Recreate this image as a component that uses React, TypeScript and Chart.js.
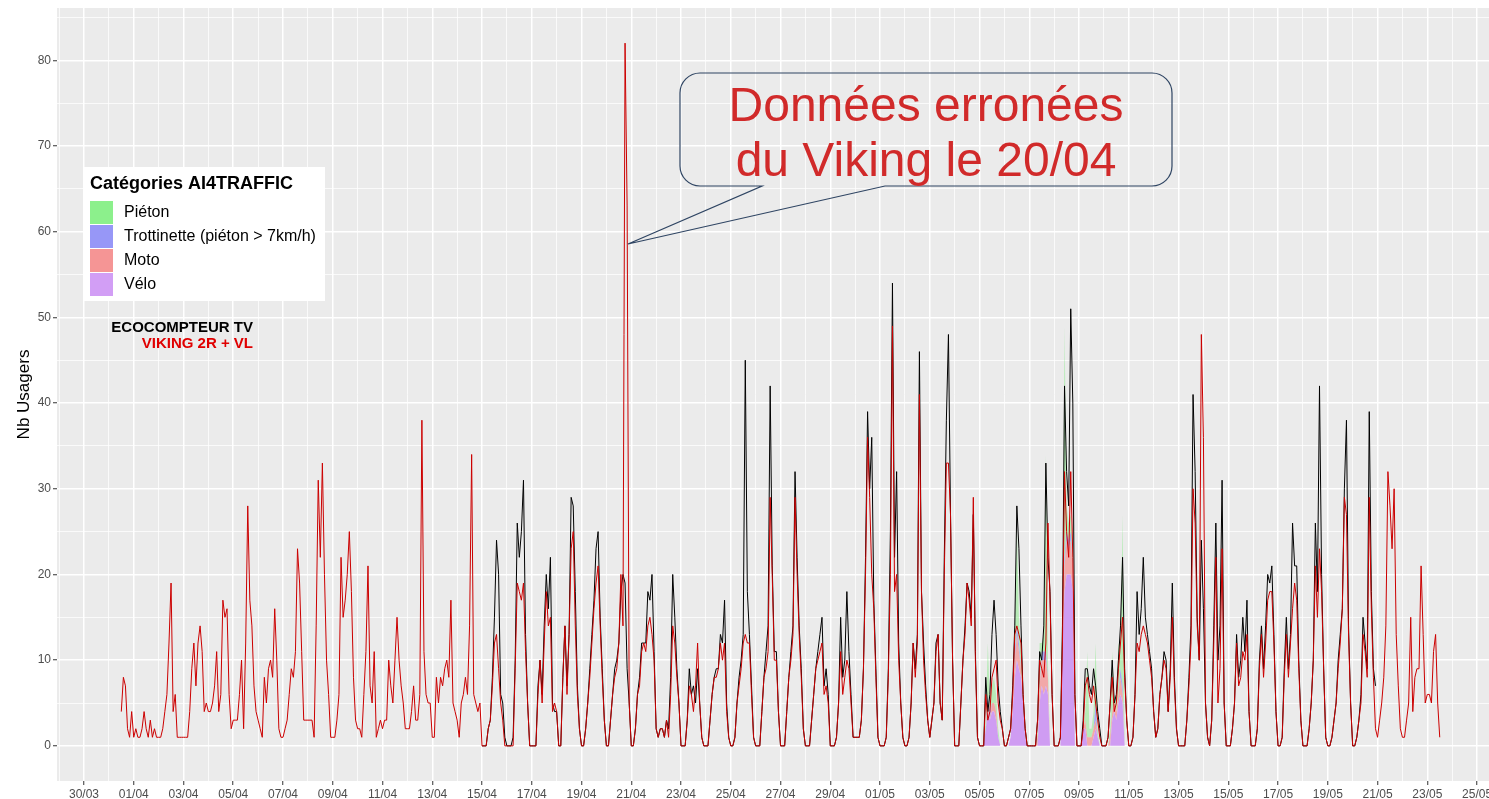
import React, { useEffect, useRef } from 'react';
import { Chart, registerables } from 'chart.js';

Chart.register(...registerables);

const FONT = "'Liberation Sans', Arial, Helvetica, sans-serif";

// X axis: days counted from 30/03 00:00; labels every 2 days
const xTickLabels = [
  '30/03', '01/04', '03/04', '05/04', '07/04', '09/04', '11/04', '13/04', '15/04', '17/04',
  '19/04', '21/04', '23/04', '25/04', '27/04', '29/04', '01/05', '03/05', '05/05', '07/05',
  '09/05', '11/05', '13/05', '15/05', '17/05', '19/05', '21/05', '23/05', '25/05',
];
const yTickLabels = [0, 10, 20, 30, 40, 50, 60, 70, 80];

// Each series is sampled every 2 hours: 12 values per day
const SAMPLES_PER_DAY = 12;

// VIKING 2R + VL (red), from 31/03 (day 1)
const vikingStartDay = 1;
const vikingValues: (number | null)[] = [
  null, null, null, null, null, null, 4, 8, 7, 2, 1, 4, // 31/03
  1, 2, 1, 1, 2, 4, 2, 1, 3, 1, 2, 1, // 01/04
  1, 1, 2, 4, 6, 12, 19, 4, 6, 1, 1, 1, // 02/04
  1, 1, 1, 4, 9, 12, 7, 12, 14, 11, 4, 5, // 03/04
  4, 4, 5, 7, 11, 4, 6, 17, 15, 16, 6, 2, // 04/04
  3, 3, 3, 6, 10, 2, 12, 28, 17, 14, 7, 4, // 05/04
  3, 2, 1, 8, 5, 9, 10, 8, 16, 10, 2, 1, // 06/04
  1, 2, 3, 6, 9, 8, 11, 23, 19, 11, 3, 3, // 07/04
  3, 3, 3, 1, 14, 31, 22, 33, 20, 10, 6, 1, // 08/04
  1, 1, 3, 6, 22, 15, 17, 20, 25, 18, 8, 3, // 09/04
  2, 2, 1, 6, 11, 21, 7, 5, 11, 1, 2, 3, // 10/04
  2, 3, 3, 10, 7, 5, 10, 15, 10, 7, 5, 2, // 11/04
  2, 2, 4, 7, 3, 3, 6, 38, 11, 6, 5, 5, // 12/04
  1, 1, 8, 5, 8, 7, 9, 10, 8, 17, 5, 4, // 13/04
  3, 1, 5, 6, 8, 6, 14, 34, 6, 5, 4, 5, // 14/04
  0, 0, 0, 2, 3, 7, 12, 13, 9, 5, 3, 0, // 15/04
  0, 0, 0, 0, 9, 19, 18, 17, 19, 11, 5, 0, // 16/04
  0, 0, 0, 6, 10, 5, 12, 18, 14, 15, 4, 5, // 17/04
  4, 0, 0, 8, 14, 6, 13, 23, 25, 14, 6, 2, // 18/04
  0, 0, 2, 5, 8, 12, 16, 19, 21, 14, 8, 3, // 19/04
  0, 0, 3, 6, 8, 9, 12, 20, 14, 82, 63, 5, // 20/04
  0, 0, 2, 6, 7, 11, 12, 11, 14, 15, 13, 10, // 21/04
  2, 1, 2, 2, 1, 3, 1, 6, 14, 12, 8, 5, // 22/04
  0, 0, 0, 3, 7, 6, 4, 7, 12, 5, 1, 0, // 23/04
  0, 0, 3, 6, 8, 8, 9, 12, 10, 12, 4, 1, // 24/04
  0, 0, 1, 5, 7, 9, 12, 13, 12, 12, 6, 1, // 25/04
  0, 0, 0, 4, 8, 9, 11, 29, 20, 10, 10, 4, // 26/04
  0, 0, 0, 4, 8, 10, 13, 29, 20, 13, 8, 2, // 27/04
  0, 0, 0, 3, 6, 9, 10, 11, 12, 6, 7, 5, // 28/04
  0, 0, 0, 1, 5, 11, 6, 8, 10, 9, 5, 1, // 29/04
  1, 1, 1, 3, 9, 20, 36, 29, 20, 16, 8, 1, // 30/04
  0, 0, 0, 1, 8, 20, 49, 18, 20, 10, 5, 1, // 01/05
  0, 0, 1, 5, 12, 8, 12, 41, 18, 10, 6, 3, // 02/05
  1, 3, 5, 11, 13, 5, 3, 20, 33, 33, 27, 10, // 03/05
  0, 0, 0, 5, 10, 13, 19, 17, 14, 29, 10, 1, // 04/05
  0, 0, 0, 6, 3, 4, 8, 9, 10, 5, 3, 2, // 05/05
  0, 0, 1, 2, 6, 13, 14, 13, 12, 6, 2, 0, // 06/05
  0, 0, 0, 0, 3, 10, 9, 8, 12, 26, 17, 6, // 07/05
  0, 0, 0, 1, 12, 32, 25, 22, 32, 22, 6, 0, // 08/05
  0, 0, 2, 7, 8, 6, 5, 7, 5, 3, 1, 0, // 09/05
  0, 0, 1, 5, 8, 4, 5, 9, 12, 15, 8, 3, // 10/05
  0, 0, 1, 6, 12, 11, 13, 14, 13, 12, 10, 8, // 11/05
  4, 1, 2, 6, 8, 10, 9, 4, 8, 15, 7, 2, // 12/05
  0, 0, 0, 0, 3, 7, 12, 30, 26, 14, 10, 48, // 13/05
  36, 5, 1, 0, 3, 12, 22, 5, 9, 23, 5, 0, // 14/05
  0, 0, 2, 5, 12, 7, 8, 11, 10, 13, 4, 0, // 15/05
  0, 0, 2, 9, 13, 8, 12, 17, 18, 18, 12, 4, // 16/05
  0, 0, 1, 8, 13, 8, 12, 16, 19, 17, 9, 3, // 17/05
  0, 0, 0, 2, 5, 10, 21, 15, 23, 18, 9, 1, // 18/05
  0, 0, 1, 3, 5, 9, 12, 16, 29, 27, 13, 5, // 19/05
  0, 0, 1, 3, 5, 13, 11, 8, 29, 16, 8, 2, // 20/05
  1, 3, 5, 8, 14, 32, 28, 23, 30, 13, 7, 2, // 21/05
  1, 1, 3, 5, 15, 4, 8, 9, 9, 21, 13, 5, // 22/05
  6, 6, 5, 11, 13, 5, 1, // 23/05
];

// ECOCOMPTEUR TV (black), from 15/04 (day 16)
const tvStartDay = 16;
const tvValues: number[] = [
  0, 0, 0, 2, 3, 8, 15, 24, 20, 6, 5, 1, // 15/04
  0, 0, 0, 1, 10, 26, 22, 25, 31, 13, 5, 0, // 16/04
  0, 0, 0, 7, 10, 6, 14, 20, 16, 22, 5, 4, // 17/04
  4, 0, 0, 8, 14, 7, 13, 29, 28, 18, 7, 2, // 18/04
  0, 0, 2, 5, 9, 13, 17, 23, 25, 15, 9, 3, // 19/04
  0, 0, 3, 6, 9, 10, 12, 18, 20, 19, 9, 5, // 20/04
  0, 0, 2, 6, 8, 12, 12, 12, 18, 17, 20, 11, // 21/04
  2, 1, 2, 2, 1, 3, 2, 8, 20, 15, 9, 5, // 22/04
  0, 0, 0, 3, 9, 6, 7, 5, 9, 5, 1, 0, // 23/04
  0, 0, 3, 6, 8, 9, 9, 13, 12, 17, 5, 1, // 24/04
  0, 0, 1, 5, 8, 10, 13, 45, 18, 13, 7, 1, // 25/04
  0, 0, 0, 4, 8, 11, 14, 42, 21, 11, 11, 4, // 26/04
  0, 0, 0, 4, 8, 11, 14, 32, 22, 14, 9, 2, // 27/04
  0, 0, 0, 3, 6, 9, 11, 13, 15, 7, 9, 6, // 28/04
  0, 0, 0, 1, 5, 15, 8, 10, 18, 11, 6, 1, // 29/04
  1, 1, 1, 3, 9, 22, 39, 30, 36, 17, 9, 1, // 30/04
  0, 0, 0, 1, 9, 25, 54, 22, 32, 12, 5, 1, // 01/05
  0, 0, 1, 5, 12, 9, 13, 46, 18, 12, 7, 3, // 02/05
  1, 3, 5, 12, 13, 5, 3, 22, 38, 48, 27, 10, // 03/05
  0, 0, 0, 5, 10, 14, 19, 18, 15, 27, 11, 1, // 04/05
  0, 0, 0, 8, 4, 6, 13, 17, 13, 7, 4, 2, // 05/05
  0, 0, 1, 2, 7, 14, 28, 23, 14, 6, 2, 0, // 06/05
  0, 0, 0, 0, 3, 11, 10, 14, 33, 22, 18, 6, // 07/05
  0, 0, 0, 1, 14, 42, 32, 28, 51, 40, 6, 0, // 08/05
  0, 0, 3, 9, 9, 7, 6, 9, 7, 4, 2, 0, // 09/05
  0, 0, 1, 5, 10, 5, 6, 10, 14, 22, 9, 3, // 10/05
  0, 0, 1, 6, 18, 13, 16, 22, 15, 13, 11, 9, // 11/05
  4, 1, 2, 6, 8, 11, 10, 4, 9, 19, 8, 2, // 12/05
  0, 0, 0, 0, 3, 8, 14, 41, 32, 15, 10, 24, // 13/05
  16, 5, 1, 0, 3, 14, 26, 10, 14, 31, 5, 0, // 14/05
  0, 0, 2, 5, 13, 8, 10, 15, 11, 17, 4, 0, // 15/05
  0, 0, 2, 10, 14, 9, 14, 20, 19, 21, 13, 4, // 16/05
  0, 0, 1, 9, 15, 9, 13, 26, 21, 21, 10, 3, // 17/05
  0, 0, 0, 2, 5, 10, 26, 18, 42, 20, 9, 1, // 18/05
  0, 0, 1, 3, 5, 10, 13, 16, 30, 38, 14, 5, // 19/05
  0, 0, 1, 3, 6, 15, 12, 9, 39, 18, 9, 7, // 20/05
];

// AI4TRAFFIC categories (stacked areas), from 05/05 (day 36)
const aiStartDay = 36;
const veloValues: number[] = [
  0, 0, 0, 2, 4, 3, 4, 4, 3, 1, 0, 0, // 05/05
  0, 0, 0, 1, 4, 8, 10, 9, 8, 5, 1, 0, // 06/05
  0, 0, 0, 0, 0, 5, 7, 6, 7, 6, 0, 0, // 07/05
  0, 0, 0, 0, 12, 18, 20, 20, 20, 18, 0, 0, // 08/05
  0, 0, 2, 2, 0, 0, 0, 1, 2, 1, 0, 0, // 09/05
  0, 0, 0, 0, 3, 4, 3, 5, 6, 5, 0, 0, // 10/05
];
const motoValues: number[] = [
  0, 0, 0, 0, 1, 0, 1, 1, 1, 0, 0, 0,
  0, 0, 0, 0, 1, 2, 3, 2, 1, 0, 0, 0,
  0, 0, 0, 0, 1, 2, 3, 4, 3, 2, 0, 0,
  0, 0, 0, 0, 1, 3, 4, 3, 4, 3, 0, 0,
  0, 0, 0, 1, 1, 1, 1, 1, 1, 0, 0, 0,
  0, 0, 0, 1, 1, 1, 1, 1, 2, 1, 0, 0,
];
const trottinetteValues: number[] = [
  0, 0, 0, 0, 1, 1, 0, 0, 0, 0, 0, 0,
  0, 0, 0, 0, 0, 1, 1, 1, 0, 0, 0, 0,
  0, 0, 0, 0, 0, 0, 1, 1, 1, 0, 0, 0,
  0, 0, 0, 0, 0, 1, 1, 1, 1, 0, 0, 0,
  0, 0, 0, 0, 0, 0, 0, 0, 2, 0, 0, 0,
  0, 0, 0, 0, 0, 0, 0, 0, 1, 1, 0, 0,
];
const pietonValues: number[] = [
  0, 0, 0, 1, 6, 1, 2, 3, 2, 1, 0, 0,
  0, 0, 0, 0, 1, 2, 12, 3, 2, 1, 0, 0,
  0, 0, 0, 0, 1, 5, 1, 2, 23, 2, 0, 0,
  0, 0, 0, 0, 1, 27, 3, 2, 2, 2, 0, 0,
  0, 0, 0, 1, 10, 1, 1, 2, 7, 1, 0, 0,
  0, 0, 0, 1, 7, 1, 1, 6, 2, 20, 0, 0,
];

const legendTitle = 'Catégories AI4TRAFFIC';
const legendLabels = ['Piéton', 'Trottinette (piéton > 7km/h)', 'Moto', 'Vélo'];
const legendColors = ['#8CF08C', '#9797F7', '#F59595', '#D29EF5'];
const areaFillColors = ['rgba(120,235,120,0.45)', 'rgba(140,140,245,0.7)', 'rgba(245,140,140,0.7)', '#CF9CF2'];
const seriesLabels = ['ECOCOMPTEUR TV', 'VIKING 2R + VL'];
const calloutLines = ['Données erronées', 'du Viking le 20/04'];

const toPoints = (values: (number | null)[], startDay: number) =>
  values.map((v, i) => ({ x: startDay + i / SAMPLES_PER_DAY, y: v }));

const panelBackground = {
  id: 'panelBackground',
  beforeDraw(chart: any) {
    const { ctx, chartArea: a } = chart;
    ctx.save();
    ctx.fillStyle = '#EBEBEB';
    ctx.fillRect(a.left, a.top, a.right - a.left, a.bottom - a.top);
    ctx.restore();
  },
};

const annotations = {
  id: 'annotations',
  afterDraw(chart: any) {
    const ctx = chart.ctx as CanvasRenderingContext2D;
    ctx.save();
    // Legend box
    ctx.fillStyle = '#FFFFFF';
    ctx.fillRect(84, 167, 241, 134);
    ctx.fillStyle = '#000000';
    ctx.textAlign = 'left';
    ctx.textBaseline = 'alphabetic';
    ctx.font = `bold 18px ${FONT}`;
    ctx.fillText(legendTitle, 90, 189);
    ctx.font = `16px ${FONT}`;
    ctx.textBaseline = 'middle';
    legendLabels.forEach((label, i) => {
      const y = 201 + i * 24;
      ctx.fillStyle = legendColors[i];
      ctx.fillRect(90, y, 23, 23);
      ctx.fillStyle = '#000000';
      ctx.fillText(label, 124, y + 12);
    });
    // Series labels
    ctx.textAlign = 'right';
    ctx.textBaseline = 'alphabetic';
    ctx.font = `bold 15px ${FONT}`;
    ctx.fillStyle = '#000000';
    ctx.fillText(seriesLabels[0], 253, 332);
    ctx.fillStyle = '#E00000';
    ctx.fillText(seriesLabels[1], 253, 348);
    // Callout bubble
    const L = 680, R = 1172, T = 73, B = 186, r = 20;
    ctx.beginPath();
    ctx.moveTo(L + r, T);
    ctx.lineTo(R - r, T);
    ctx.arcTo(R, T, R, T + r, r);
    ctx.lineTo(R, B - r);
    ctx.arcTo(R, B, R - r, B, r);
    ctx.lineTo(885, B);
    ctx.lineTo(628, 244);
    ctx.lineTo(762, B);
    ctx.lineTo(L + r, B);
    ctx.arcTo(L, B, L, B - r, r);
    ctx.lineTo(L, T + r);
    ctx.arcTo(L, T, L + r, T, r);
    ctx.closePath();
    ctx.strokeStyle = '#2F4563';
    ctx.lineWidth = 1.2;
    ctx.stroke();
    ctx.fillStyle = '#D12A2A';
    ctx.textAlign = 'center';
    ctx.font = `48px ${FONT}`;
    ctx.fillText(calloutLines[0], 926, 121);
    ctx.fillText(calloutLines[1], 926, 176);
    ctx.restore();
  },
};

export default function App() {
  const canvasRef = useRef<HTMLCanvasElement | null>(null);

  useEffect(() => {
    document.body.style.margin = '0';
    const canvas = canvasRef.current;
    if (!canvas) return;

    const areaDataset = (label: string, values: number[], color: string, fill: any) => ({
      label,
      data: toPoints(values, aiStartDay),
      stack: 'ai',
      order: 2,
      borderWidth: 0,
      borderColor: color,
      backgroundColor: color,
      pointRadius: 0,
      fill,
      tension: 0,
    });

    const chart = new Chart(canvas, {
      type: 'line',
      data: {
        datasets: [
          areaDataset('Vélo', veloValues, areaFillColors[3], 'origin'),
          areaDataset('Moto', motoValues, areaFillColors[2], '-1'),
          areaDataset('Trottinette (piéton > 7km/h)', trottinetteValues, areaFillColors[1], '-1'),
          areaDataset('Piéton', pietonValues, areaFillColors[0], '-1'),
          {
            label: seriesLabels[0],
            data: toPoints(tvValues, tvStartDay),
            stack: 'tv',
            order: 1,
            borderColor: '#000000',
            borderWidth: 1,
            pointRadius: 0,
            fill: false,
            tension: 0,
          },
          {
            label: seriesLabels[1],
            data: toPoints(vikingValues, vikingStartDay),
            stack: 'viking',
            order: 0,
            borderColor: '#CC0000',
            borderWidth: 1,
            pointRadius: 0,
            fill: false,
            tension: 0,
          },
        ] as any,
      },
      options: {
        responsive: false,
        animation: false,
        devicePixelRatio: 1,
        spanGaps: false,
        layout: { padding: { top: 8, right: 0, bottom: 0, left: 0 } },
        plugins: {
          legend: { display: false },
          tooltip: { enabled: false },
          title: { display: false },
        },
        scales: {
          x: {
            type: 'linear',
            min: -1.085,
            max: 56.48,
            afterBuildTicks: (axis: any) => {
              const ticks = [];
              for (let d = -1; d <= 56; d++) ticks.push({ value: d });
              axis.ticks = ticks;
            },
            afterFit: (axis: any) => {
              axis.height = 18;
              axis.paddingLeft = 0;
              axis.paddingRight = 0;
            },
            ticks: {
              autoSkip: false,
              maxRotation: 0,
              minRotation: 0,
              padding: 2,
              color: '#4D4D4D',
              font: { family: FONT, size: 12 },
              callback: (value: any) => {
                const v = Number(value);
                return v >= 0 && v % 2 === 0 ? xTickLabels[v / 2] ?? '' : '';
              },
            },
            grid: {
              color: '#FFFFFF',
              lineWidth: (ctx: any) => (ctx.tick && ctx.tick.value % 2 === 0 ? 1.5 : 0.75),
              tickColor: (ctx: any) => (ctx.tick && ctx.tick.value % 2 === 0 ? '#333333' : 'rgba(0,0,0,0)'),
              tickLength: 4,
              tickWidth: 1,
            },
            border: { display: false },
          },
          y: {
            type: 'linear',
            stacked: true,
            min: -4.1,
            max: 86.1,
            afterBuildTicks: (axis: any) => {
              const ticks = [];
              for (let v = 0; v <= 85; v += 5) ticks.push({ value: v });
              axis.ticks = ticks;
            },
            afterFit: (axis: any) => {
              axis.width = 57;
              axis.paddingTop = 0;
              axis.paddingBottom = 0;
            },
            ticks: {
              padding: 2,
              color: '#4D4D4D',
              font: { family: FONT, size: 12 },
              callback: (value: any) => {
                const v = Number(value);
                return yTickLabels.includes(v) ? String(v) : '';
              },
            },
            grid: {
              color: '#FFFFFF',
              lineWidth: (ctx: any) => (ctx.tick && ctx.tick.value % 10 === 0 ? 1.5 : 0.75),
              tickColor: (ctx: any) => (ctx.tick && ctx.tick.value % 10 === 0 ? '#333333' : 'rgba(0,0,0,0)'),
              tickLength: 4,
              tickWidth: 1,
            },
            border: { display: false },
            title: {
              display: true,
              text: 'Nb Usagers',
              color: '#000000',
              font: { family: FONT, size: 17 },
              padding: { top: 14, bottom: 0 },
            },
          },
        },
      } as any,
      plugins: [panelBackground, annotations],
    });

    return () => chart.destroy();
  }, []);

  return (
    <div style={{ width: 1489, height: 799, position: 'relative', overflow: 'hidden' }}>
      <canvas ref={canvasRef} width={1489} height={799} style={{ display: 'block' }} />
    </div>
  );
}
